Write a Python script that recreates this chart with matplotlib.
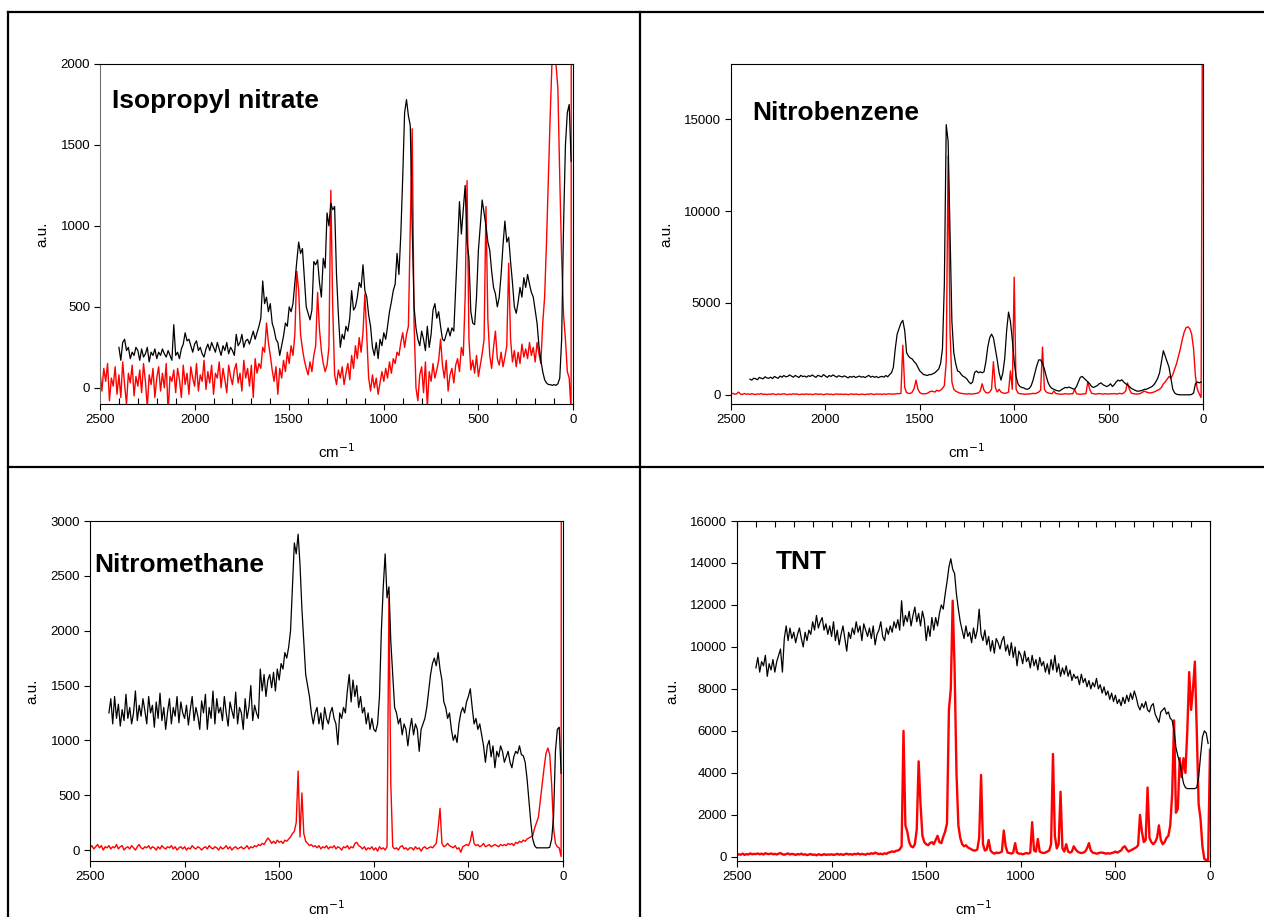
import numpy as np
import matplotlib
matplotlib.use('Agg')
import matplotlib.pyplot as plt
from matplotlib.lines import Line2D
from matplotlib.ticker import MultipleLocator

plt.rcParams['font.family'] = ['Liberation Sans', 'DejaVu Sans']

# spectra, every 10 cm-1, high wavenumber first
# black traces start at 2400 cm-1, red traces at 2500 cm-1 (last red point = laser line at 0)
ipn_black = [
    250, 170, 280, 300, 230, 250, 180, 220, 200, 250,
    230, 170, 240, 190, 210, 250, 160, 220, 200, 240,
    180, 220, 200, 240, 210, 190, 230, 200, 170, 390,
    200, 220, 180, 240, 270, 340, 290, 300, 260, 220,
    270, 290, 230, 250, 210, 190, 240, 270, 230, 280,
    250, 220, 280, 240, 200, 260, 230, 280, 210, 250,
    230, 200, 330, 260, 280, 330, 250, 290, 300, 270,
    310, 350, 300, 340, 380, 430, 660, 520, 560, 470,
    520, 400, 360, 300, 280, 200, 260, 320, 400, 380,
    500, 470, 520, 650, 780, 900, 830, 860, 680, 500,
    460, 420, 480, 780, 760, 790, 650, 560, 800, 740,
    1080, 1000, 1140, 1100, 1120, 700, 450, 250, 330, 300,
    380, 350, 430, 600, 480, 500, 560, 650, 620, 760,
    600, 560, 450, 380, 250, 200, 280, 180, 300, 260,
    340, 300, 380, 470, 530, 600, 640, 830, 700, 950,
    1300, 1700, 1780, 1680, 1620, 1000, 500, 370, 300, 260,
    350, 300, 230, 380, 250, 330, 480, 520, 430, 470,
    380, 300, 290, 330, 370, 320, 370, 350, 620, 900,
    1150, 950, 1100, 1250, 900, 800, 470, 400, 390, 560,
    850, 1000, 1160, 1080, 1000, 900, 850, 720, 620, 580,
    500, 560, 700, 880, 1030, 900, 930, 780, 650, 500,
    460, 530, 620, 560, 680, 620, 700, 640, 590, 560,
    480, 400, 260, 170, 100, 50, 30, 20, 20, 15,
    20, 15, 25, 60, 300, 1000, 1500, 1700, 1750, 1400,
]
ipn_red = [
    100, -20, 120, 40, 150, -80, 60, 10, 130, -40,
    80, -60, 160, 20, -100, 90, 30, 140, -50, 70,
    10, 110, -30, 150, 40, -120, 80, 20, 120, -60,
    60, 130, -20, 90, 0, 150, -150, 70, 40, 110,
    -30, 120, 50, -60, 140, 20, 90, -40, 130, 60,
    10, 150, -20, 80, 40, 170, -10, 100, 30, 140,
    -40, 90, 60, 160, 0, 120, 50, -30, 140, 70,
    20, 110, 150, 30, 90, -20, 170, 60, 120, 10,
    140, -60, 180, 90, 150, 120, 250, 220, 400, 280,
    200, 110, 40, 130, -40, 120, 60, 170, 100, 220,
    150, 260, 200, 330, 720, 600, 330, 240, 170, 120,
    80, 160, 100, 200, 260, 590, 360, 230, 150, 100,
    140, 250, 1220, 500, 80, 20, 110, 60, 130, 20,
    90, 150, 50, 200, 120, 260, 180, 310, 220, 340,
    580, 320, 60, -20, 80, 0, 60, -40, 30, 100,
    40, 120, 60, 160, 90, 180, 150, 220, 200, 280,
    340, 250, 330, 380, 1000, 1600, 400, 0, -80, 80,
    130, -30, 160, -120, 100, 40, 150, 60, 110, 170,
    300, 140, 60, 170, -20, 80, 120, 30, 140, 180,
    100, 250, 200, 560, 1280, 300, 110, 170, 90, 200,
    70, 140, 210, 300, 1120, 420, 200, 120, 250, 350,
    180, 140, 220, 130, 190, 260, 770, 300, 160, 230,
    130, 220, 150, 270, 190, 240, 180, 280, 200, 250,
    160, 280, 210, 150, 400, 560, 900, 1300, 1700, 2050,
    2100, 2000, 1850, 1300, 800, 450, 300, 100, 60, -150,
    30000,
]

nb_black = [
    850, 800, 900, 880, 820, 950, 900, 870, 980, 920,
    900, 960, 880, 1000, 940, 900, 1020, 960, 1050, 980,
    1000, 1080, 1020, 960, 1050, 1000, 940, 1060, 990, 1020,
    960, 1040, 1000, 1080, 1010, 950, 1060, 1020, 980, 1100,
    1020, 950, 1050, 1000, 1080, 1020, 960, 1040, 1000, 970,
    1030, 980, 920, 1000, 960, 1010, 940, 980, 1020, 960,
    990, 940, 1000, 1060, 960, 1010, 950, 1000, 930, 980,
    1000, 960, 1050, 980, 1100, 1200, 1500, 2500, 3300, 3600,
    3900, 4050, 3500, 2300, 2100, 2000, 1950, 1800, 1700, 1500,
    1300, 1200, 1100, 1080, 1050, 1100, 1100, 1150, 1200, 1300,
    1400, 1700, 2500, 6000, 14700, 13800, 9000, 4000, 2300, 1700,
    1300, 1250, 1100, 1000, 950, 850, 700, 600, 700, 1200,
    1300, 1200, 1250, 1200, 1250, 1800, 2600, 3100, 3300, 3100,
    2500, 1900, 1200, 800, 1200, 2000, 3500, 4500, 4000, 3000,
    1800, 1000, 600, 450, 400, 380, 320, 300, 350, 500,
    800, 1200, 1600, 1900, 1900, 1700, 1400, 1000, 650, 450,
    350, 300, 250, 220, 200, 280, 340, 400, 380, 420,
    380, 330, 300, 450, 700, 950, 1000, 900, 800, 700,
    600, 450, 400, 450, 500, 600, 650, 550, 500, 450,
    500, 600, 450, 550, 700, 800, 750, 820, 700, 600,
    550, 450, 350, 300, 250, 200, 200, 220, 250, 300,
    300, 350, 400, 450, 550, 700, 900, 1200, 1800, 2400,
    2100, 1800, 1500, 900, 300, 100, 30, 10, 0, 0,
    0, 0, 0, 0, 20, 100, 600, 700, 650, 700,
]
nb_red = [
    50, 80, 30, 60, 150, 40, 20, 70, 30, 50,
    20, 60, 40, 10, 50, 30, 70, 20, 40, 10,
    40, 20, 60, 30, 10, 50, 20, 40, 60, 30,
    10, 40, 20, 60, 30, 50, 10, 30, 40, 20,
    50, 20, 40, 10, 30, 60, 20, 40, 30, 10,
    30, 50, 20, 40, 10, 30, 50, 20, 40, 30,
    20, 40, 10, 30, 50, 20, 40, 30, 10, 40,
    30, 10, 40, 20, 60, 30, 20, 50, 30, 40,
    20, 50, 30, 40, 60, 30, 50, 40, 70, 60,
    80, 2700, 400, 120, 80, 70, 150, 350, 800, 300,
    120, 60, 50, 60, 80, 150, 200, 180, 150, 250,
    200, 250, 350, 500, 1800, 13000, 3500, 700, 300, 200,
    150, 100, 80, 60, 50, 40, 60, 40, 50, 60,
    80, 100, 200, 600, 250, 120, 100, 150, 300, 1800,
    400, 150, 300, 150, 100, 80, 100, 150, 1300, 300,
    6400, 300, 100, 60, 50, 40, 30, 50, 40, 60,
    80, 60, 100, 150, 250, 2600, 300, 150, 100, 80,
    60, 200, 80, 50, 40, 30, 40, 60, 50, 40,
    60, 50, 300, 60, 40, 30, 40, 50, 60, 700,
    300, 80, 60, 40, 50, 70, 50, 40, 60, 50,
    40, 60, 50, 70, 40, 60, 80, 50, 100, 200,
    650, 300, 100, 60, 50, 40, 50, 80, 150, 200,
    150, 120, 100, 120, 150, 200, 250, 300, 400, 600,
    700, 850, 1000, 900, 1100, 1400, 1700, 2100, 2500, 3000,
    3400, 3650, 3700, 3600, 3300, 2500, 1000, 300, 50, -150,
    30000,
]

nm_black = [
    1250, 1380, 1150, 1400, 1200, 1330, 1130, 1280, 1180, 1420,
    1200, 1300, 1150, 1250, 1450, 1180, 1320, 1220, 1380, 1270,
    1150, 1400, 1250, 1320, 1120, 1350, 1200, 1430, 1180, 1300,
    1100, 1260, 1380, 1150, 1300, 1220, 1400, 1160, 1350, 1250,
    1200, 1320, 1140, 1280, 1400, 1180, 1300, 1220, 1100, 1360,
    1250, 1420, 1100, 1300, 1200, 1450, 1150, 1380, 1250, 1300,
    1180, 1400, 1250, 1130, 1350, 1270, 1200, 1440, 1150, 1300,
    1250, 1100, 1380, 1200, 1300, 1500, 1180, 1320, 1250, 1200,
    1650, 1450, 1600, 1400, 1550, 1600, 1480, 1620, 1450, 1650,
    1550, 1700, 1650, 1800, 1750, 1850, 2000, 2400, 2800, 2700,
    2880, 2600, 2200, 1900, 1600, 1500, 1400, 1250, 1150, 1250,
    1300, 1150, 1250, 1100, 1300, 1200, 1150, 1250, 1300, 1200,
    1150, 960, 1250, 1200, 1300, 1250, 1450, 1600, 1350, 1550,
    1400, 1500, 1300, 1400, 1250, 1300, 1150, 1250, 1100, 1200,
    1100, 1080, 1150, 1400, 2000, 2400, 2700, 2300, 2400, 1900,
    1600, 1300, 1250, 1150, 1200, 1050, 1150, 1100, 950, 1100,
    1200, 1050, 1150, 1100, 900, 1100, 1150, 1200, 1300, 1450,
    1600, 1700, 1750, 1680, 1800, 1650, 1550, 1350, 1300, 1200,
    1250, 1100, 1000, 1050, 980, 1150, 1250, 1300, 1250, 1350,
    1400, 1470, 1300, 1150, 1200, 1100, 1150, 1050, 950, 800,
    950, 1000, 850, 950, 750, 900, 850, 950, 900, 800,
    850, 900, 800, 750, 850, 900, 880, 950, 870, 860,
    800, 650, 450, 250, 100, 40, 20, 20, 20, 20,
    20, 20, 20, 25, 100, 300, 900, 1100, 1120, 700,
]
nm_red = [
    20, 40, 10, 30, 50, 20, 40, 0, 30, 20,
    40, 10, 30, 20, 50, 10, 30, 40, 0, 20,
    30, 10, 40, 20, 0, 30, 50, 20, 10, 30,
    20, 40, 10, 30, 20, 0, 30, 10, 40, 20,
    10, 30, 20, 40, 10, 30, 0, 20, 30, 10,
    30, 0, 20, 10, 40, 20, 10, 30, 20, 0,
    20, 30, 10, 40, 20, 10, 30, 20, 0, 30,
    10, 20, 40, 10, 30, 0, 20, 30, 10, 20,
    30, 10, 20, 40, 10, 30, 20, 40, 30, 50,
    40, 60, 50, 80, 110, 90, 60, 80, 60, 90,
    70, 80, 60, 90, 80, 100, 120, 150, 170, 250,
    720, 120, 520, 150, 80, 60, 40, 50, 30, 40,
    20, 40, 10, 30, 20, 40, 10, 30, 20, 40,
    10, 30, 20, 0, 30, 20, 40, 10, 30, 20,
    60, 70, 40, 30, 10, 30, 0, 20, 10, 30,
    0, 20, -10, 30, 10, 20, 0, 30, 2300, 600,
    30, 10, 20, 0, 30, 40, 10, 20, 0, 20,
    20, 0, 30, 10, 20, -10, 20, 30, 10, 20,
    30, 20, 40, 60, 200, 380, 60, 30, 40, 60,
    40, 30, 20, 40, 10, 20, -20, 30, 40, 50,
    40, 80, 170, 60, 40, 50, 30, 40, 60, 30,
    40, 50, 30, 40, 50, 40, 30, 50, 40, 50,
    40, 60, 50, 60, 40, 70, 60, 80, 70, 90,
    80, 100, 110, 120, 130, 200, 250, 300, 450, 600,
    750, 880, 930, 870, 600, 200, 60, 30, 20, -60,
    30000,
]

tnt_black = [
    9000, 9500, 8800, 9300, 9100, 9600, 8600, 9200, 8900, 9400,
    8800, 9300, 9600, 9900, 8800, 10400, 11000, 10300, 10900, 10400,
    10700, 10200, 10600, 10900, 10400, 10000, 10700, 10300, 10800, 10600,
    11200, 10800, 11500, 10900, 11200, 11400, 10800, 11100, 10600, 11000,
    10500, 11200, 10300, 10800, 10100, 10600, 11000, 10400, 9800, 10700,
    10400, 10900, 10600, 11200, 10700, 11000, 10300, 11100, 10800, 10500,
    10900, 10400, 11000, 10100, 10600, 10800, 11200, 10500, 10300, 10900,
    10600, 11000, 10700, 11200, 10900, 11300, 10800, 12200, 11000, 11500,
    11200, 11700, 11000, 11500, 11900, 11200, 11600, 11000, 11700, 11300,
    10300, 11000, 10500, 11400, 10800, 11400, 11000, 11600, 12000, 11800,
    12500, 13100, 13800, 14200, 13700, 13500, 12500, 11800, 11200, 10800,
    10400, 11000, 10500, 10700, 10200, 10900, 10400, 10800, 11800, 10600,
    10300, 10800, 10100, 10500, 9800, 10300, 9700, 10400, 10200, 9900,
    10300, 10500, 9800, 10100, 9600, 10200, 9500, 10000, 9100, 9800,
    9600, 9200, 9800, 9300, 9500, 9000, 9600, 9100, 9400, 8900,
    9500, 9100, 9300, 8800, 9200, 8700, 9400, 8900, 9600, 8800,
    9200, 8600, 9000, 8700, 9100, 8600, 8900, 8400, 8700, 8500,
    8600, 8200, 8700, 8300, 8500, 8100, 8400, 8000, 8300, 8100,
    8500, 8000, 8200, 7800, 8100, 7700, 7900, 7500, 7800, 7400,
    7700, 7300, 7500, 7200, 7600, 7300, 7700, 7400, 7800, 7500,
    7900, 7600, 7200, 7000, 7300, 7100, 7400, 7000, 6900, 7200,
    7300, 6800, 6600, 6400, 6900, 7000, 7100, 6800, 6900, 6600,
    6500, 6000, 5200, 4800, 4500, 4000, 3500, 3300, 3250, 3250,
    3250, 3250, 3250, 3300, 3800, 4800, 5700, 6000, 5900, 5400,
]
tnt_red = [
    80, 120, 100, 150, 90, 130, 110, 160, 120, 140,
    130, 160, 120, 150, 110, 170, 140, 130, 160, 120,
    140, 110, 150, 180, 120, 100, 130, 160, 110, 140,
    120, 90, 130, 110, 150, 100, 120, 80, 110, 130,
    90, 110, 70, 120, 100, 80, 130, 90, 110, 100,
    120, 90, 110, 140, 100, 130, 90, 120, 150, 110,
    130, 100, 140, 120, 160, 110, 140, 120, 100, 150,
    130, 170, 140, 200, 160, 130, 150, 120, 170, 140,
    200, 220, 260, 230, 280, 300, 350, 500, 6000, 1500,
    1200, 700, 500, 450, 600, 1300, 4550, 2500, 1000, 700,
    600, 550, 650, 700, 600, 800, 1000, 700, 650, 950,
    1200, 1600, 7000, 8000, 12200, 9000, 4000, 1500, 900, 600,
    500, 550, 450, 400, 350, 300, 300, 350, 900, 3900,
    600, 300, 350, 800, 300, 200, 150, 200, 180, 200,
    250, 1250, 500, 200, 180, 150, 200, 650, 200, 150,
    150, 120, 150, 180, 150, 200, 1650, 300, 250, 850,
    250, 200, 180, 200, 250, 300, 600, 4900, 1000, 400,
    600, 3100, 400, 250, 600, 250, 200, 250, 500, 350,
    250, 200, 180, 200, 250, 400, 650, 300, 200, 180,
    150, 170, 200, 200, 180, 150, 170, 150, 180, 200,
    250, 200, 250, 300, 450, 500, 350, 250, 300, 350,
    400, 450, 550, 2000, 1200, 700, 800, 3300, 900, 700,
    600, 700, 900, 1500, 800, 600, 700, 900, 1000, 1500,
    3000, 6500, 2100, 2300, 4700, 3800, 4700, 4000, 6000, 8800,
    7000, 8000, 9300, 6000, 2500, 1800, 500, -100, -150, -150,
    5100,
]

names = ['Isopropyl nitrate', 'Nitrobenzene', 'Nitromethane', 'TNT']
blacks = [ipn_black, nb_black, nm_black, tnt_black]
reds = [ipn_red, nb_red, nm_red, tnt_red]
ylims = [(-100, 2000), (-500, 18000), (-100, 3000), (-200, 16000)]
ysteps = [500, 5000, 500, 2000]

fig = plt.figure(figsize=(12.64, 9.17), dpi=100)
W, H = 1264.0, 917.0

# axes boxes in pixels: left, right, top, bottom
boxes = [(100, 573, 64, 404), (731, 1203, 64, 404),
         (90, 563, 521, 861), (737, 1210, 521, 861)]
# title anchor (pixels, left / vertical centre)
title_pos = [(112, 101), (752, 113), (94, 565), (776, 562)]
red_lw = [1.0, 1.0, 1.0, 1.7]

for i in range(4):
    l, r, t, b = boxes[i]
    ax = fig.add_axes([l / W, 1 - b / H, (r - l) / W, (b - t) / H])
    xb = 2400 - 10 * np.arange(len(blacks[i]))
    xr = 2500 - 10 * np.arange(len(reds[i]))
    ax.plot(xr, reds[i], color='#ff0000', lw=red_lw[i], zorder=2)
    ax.plot(xb, blacks[i], color='black', lw=0.9, zorder=3)
    ax.set_xlim(2500, 0)
    ax.set_ylim(*ylims[i])
    ax.xaxis.set_major_locator(MultipleLocator(500))
    ax.yaxis.set_major_locator(MultipleLocator(ysteps[i]))
    ax.tick_params(axis='both', which='major', direction='out', length=4,
                   width=0.8, labelsize=9.5, pad=3)
    for s in ax.spines.values():
        s.set_linewidth(0.8)
    if i == 0:
        ax.xaxis.set_minor_locator(MultipleLocator(100))
        ax.tick_params(axis='x', which='minor', direction='in', length=4, width=0.8)
        ax.spines['left'].set_color('#707070')
    if i == 3:
        # inward ticks every 100 cm-1 along the top edge
        ax.xaxis.remove_overlapping_locs = False
        ax.xaxis.set_minor_locator(MultipleLocator(100))
        ax.tick_params(axis='x', which='minor', direction='in', length=4, width=0.8,
                       top=True, bottom=False)
    ax.set_xlabel('cm$^{-1}$', fontsize=11, labelpad=12)
    ax.set_ylabel('a.u.', fontsize=11, labelpad=8)
    tx, ty = title_pos[i]
    fig.text(tx / W, 1 - ty / H, names[i], fontsize=19, fontweight='bold',
             ha='left', va='center')

# table-like frame around the four panels
frame = [((8, 1264), (12, 12)), ((8, 8), (12, 917)), ((640, 640), (12, 917)),
         ((8, 1264), (467, 467))]
for xs, ys in frame:
    fig.add_artist(Line2D([x / W for x in xs], [1 - y / H for y in ys],
                          color='black', lw=1.6))

fig.savefig('out.png', dpi=100)
